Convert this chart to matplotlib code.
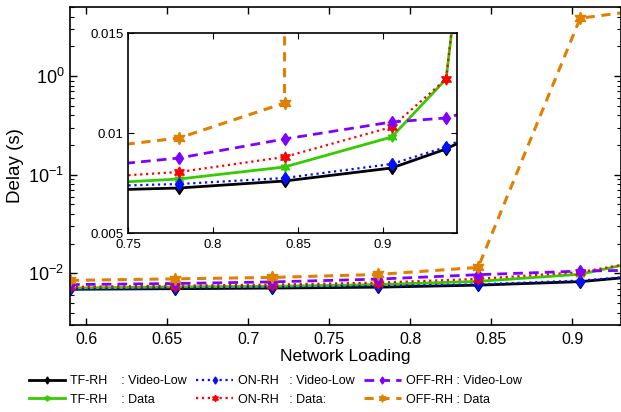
import matplotlib
matplotlib.use("Agg")
import matplotlib.pyplot as plt
from matplotlib.ticker import LogLocator, NullFormatter

plt.rcParams['font.family'] = ['Liberation Sans', 'DejaVu Sans']
plt.rcParams['mathtext.fontset'] = 'custom'
plt.rcParams['mathtext.rm'] = 'Liberation Sans'
plt.rcParams['mathtext.it'] = 'Liberation Sans'
plt.rcParams['mathtext.default'] = 'regular'

# ---- data ----
load = [0.59, 0.655, 0.715, 0.78, 0.842, 0.905, 0.937, 0.968]
tf_video = [0.0069, 0.0070, 0.0071, 0.00725, 0.0076, 0.00825, 0.0092, 0.0105]
tf_data = [0.0071, 0.0073, 0.0074, 0.0077, 0.0083, 0.0098, 0.0127, 0.035]
on_video = [0.0069, 0.0071, 0.0073, 0.00745, 0.00775, 0.00845, 0.0093, 0.0106]
on_data = [0.0073, 0.0075, 0.0077, 0.00805, 0.0088, 0.0103, 0.0127, 0.036]
off_video = [0.0077, 0.0079, 0.0082, 0.00875, 0.0097, 0.01055, 0.01075, 0.0115]
off_data = [0.0085, 0.0088, 0.0091, 0.00975, 0.0115, 3.85, 4.5, 5.2]

labels = ["TF-RH    : Video-Low", "TF-RH    : Data",
          "ON-RH   : Video-Low", "ON-RH   : Data:",
          "OFF-RH : Video-Low", "OFF-RH : Data"]

star6 = (6, 1, 0)
styles = [
    dict(color='black', ls='-', lw=2.0, marker='d', ms=6),
    dict(color='#33cc00', ls='-', lw=2.0, marker=star6, ms=7),
    dict(color='#0010ff', ls=':', lw=1.6, marker='d', ms=6),
    dict(color='#ff0000', ls=':', lw=1.6, marker=star6, ms=8),
    dict(color='#7f00ff', ls=(0, (3.5, 2.2)), lw=2.0, marker='d', ms=6),
    dict(color='#e08000', ls=(0, (3, 2.2)), lw=2.2, marker=star6, ms=9),
]
series = [tf_video, tf_data, on_video, on_data, off_video, off_data]

fig = plt.figure(figsize=(6.21, 4.12), dpi=100)
ax = fig.add_axes([70/621, 1-325/412, 551/621 - 0.0005, 318/412])

handles = []
for ys, st, lab in zip(series, styles, labels):
    h, = ax.plot(load, ys, label=lab, **st)
    handles.append(h)

ax.set_yscale('log')
ax.set_xlim(0.59, 0.93)
ax.set_ylim(0.003, 5)
ax.set_xticks([0.6, 0.65, 0.7, 0.75, 0.8, 0.85, 0.9])
ax.set_xticklabels(['0.6', '0.65', '0.7', '0.75', '0.8', '0.85', '0.9'])
ax.yaxis.set_major_locator(LogLocator(base=10, numticks=10))
ax.yaxis.set_minor_locator(LogLocator(base=10, subs=range(2, 10), numticks=20))
ax.yaxis.set_minor_formatter(NullFormatter())
ax.tick_params(which='both', direction='in', top=True, right=True)
ax.tick_params(axis='x', labelsize=11.5, pad=5)
ax.tick_params(axis='y', labelsize=13, pad=4)
ax.tick_params(which='major', length=5, width=1)
ax.tick_params(which='minor', length=3, width=0.8)
for s in ax.spines.values():
    s.set_linewidth(1.2)
ax.set_xlabel('Network Loading', fontsize=12.5, labelpad=1.5)
ax.set_ylabel('Delay (s)', fontsize=13.5, labelpad=3)

# inset
ins = fig.add_axes([128/621, 1-233/412, 329/621, 200/412])
ins.set_facecolor('white')
for ys, st in zip(series, styles):
    ins.plot(load, ys, **st)
ins.set_xlim(0.75, 0.9434)
ins.set_ylim(0.005, 0.015)
ins.set_xticks([0.75, 0.8, 0.85, 0.9])
ins.set_xticklabels(['0.75', '0.8', '0.85', '0.9'])
ins.set_yticks([0.005, 0.01, 0.015])
ins.set_yticklabels(['0.005', '0.01', '0.015'])
ins.tick_params(direction='in', top=True, right=True, labelsize=9.5, length=4)
ins.tick_params(axis='y', pad=3)
ins.tick_params(axis='x', pad=4)
for s in ins.spines.values():
    s.set_linewidth(1.2)

fig.legend(handles=handles, labels=labels, ncol=3, loc='center left',
           bbox_to_anchor=(21/621, 1-390.5/412), frameon=False, fontsize=9,
           markerscale=0.6, handlelength=2.9, handletextpad=0.4,
           columnspacing=0.8, labelspacing=0.5, borderaxespad=0.2)

fig.savefig('out.png', dpi=100)
